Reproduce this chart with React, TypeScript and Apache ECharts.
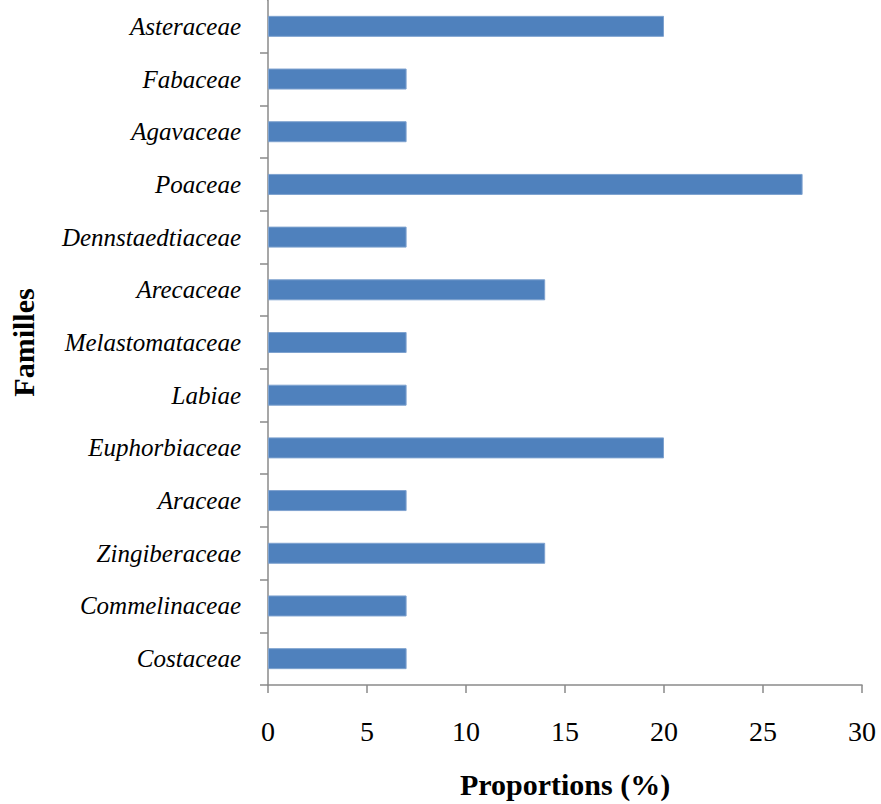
import React, { useEffect, useRef } from "react";
import * as echarts from "echarts";

// Plant families, listed top to bottom
const families: string[] = [
  "Asteraceae",
  "Fabaceae",
  "Agavaceae",
  "Poaceae",
  "Dennstaedtiaceae",
  "Arecaceae",
  "Melastomataceae",
  "Labiae",
  "Euphorbiaceae",
  "Araceae",
  "Zingiberaceae",
  "Commelinaceae",
  "Costaceae",
];

// Share of species per family (%)
const proportions: number[] = [20, 7, 7, 27, 7, 14, 7, 7, 20, 7, 14, 7, 7];

const xMin = 0;
const xMax = 30;
const xStep = 5;

const SERIF = "'Liberation Serif', 'Times New Roman', serif";
const AXIS_GREY = "#8a8a8a";

export default function App() {
  const ref = useRef<HTMLDivElement>(null);

  useEffect(() => {
    if (!ref.current) return;
    const chart = echarts.init(ref.current, undefined, { renderer: "svg" });
    chart.setOption({
      animation: false,
      backgroundColor: "#ffffff",
      grid: { left: 262, top: -3, width: 600, height: 689, containLabel: false },
      xAxis: {
        type: "value",
        min: xMin,
        max: xMax,
        interval: xStep,
        name: "Proportions (%)",
        nameLocation: "middle",
        nameGap: 84,
        nameTextStyle: { fontFamily: SERIF, fontSize: 30, fontWeight: "bold", color: "#000" },
        axisLine: { show: true, lineStyle: { color: AXIS_GREY, width: 1.5 } },
        axisTick: { show: true, length: 8, lineStyle: { color: AXIS_GREY, width: 1.5 } },
        axisLabel: { fontFamily: SERIF, fontSize: 28, color: "#000", margin: 32 },
        splitLine: { show: false },
      },
      yAxis: {
        type: "category",
        data: families,
        inverse: true,
        name: "Familles",
        nameLocation: "middle",
        nameGap: 230,
        nameRotate: 90,
        nameTextStyle: { fontFamily: SERIF, fontSize: 30, fontWeight: "bold", color: "#000" },
        axisLine: { show: true, lineStyle: { color: AXIS_GREY, width: 1.5 } },
        axisTick: { show: true, length: 8, alignWithLabel: false, lineStyle: { color: AXIS_GREY, width: 1.5 } },
        axisLabel: { fontFamily: SERIF, fontSize: 25, fontStyle: "italic", color: "#000", margin: 27 },
        splitLine: { show: false },
      },
      series: [
        {
          type: "bar",
          data: proportions,
          barWidth: 21,
          itemStyle: { color: "#4f81bd", borderColor: "#7ea2cf", borderWidth: 1 },
        },
      ],
      graphic: [
        // trims the axis line above the first band
        { type: "rect", left: 255, top: 0, shape: { width: 12, height: 12 }, style: { fill: "#ffffff" }, z: 100 },
      ],
    });
    return () => chart.dispose();
  }, []);

  return (
    <div
      ref={ref}
      style={{ position: "fixed", left: 0, top: 0, width: 881, height: 804 }}
    />
  );
}
